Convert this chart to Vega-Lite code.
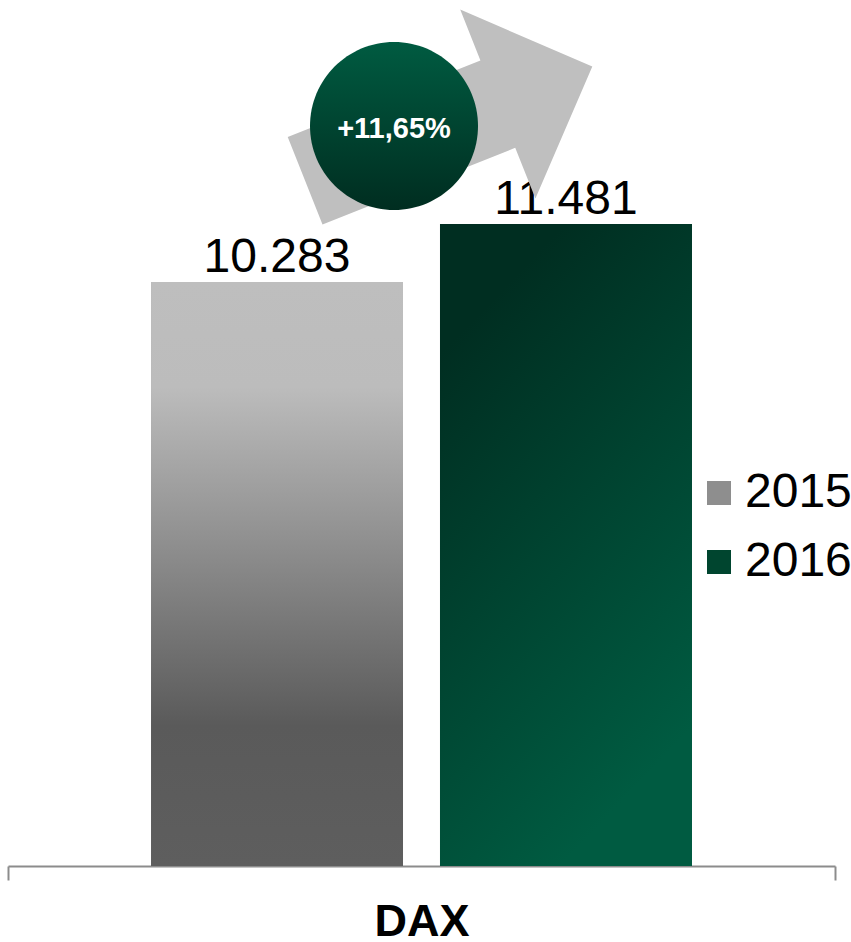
{
  "$schema": "https://vega.github.io/schema/vega-lite/v6.json",
  "width": 827,
  "height": 866,
  "autosize": {"type": "none"},
  "padding": {"left": 8, "top": 0, "right": 16, "bottom": 76},
  "background": "white",
  "config": {
    "font": "Liberation Sans",
    "view": {"stroke": null},
    "locale": {"number": {"decimal": ",", "thousands": ".", "grouping": [3], "currency": ["", " €"]}}
  },
  "data": {
    "values": [
      {"index": "DAX", "year": "2015", "value": 10283},
      {"index": "DAX", "year": "2016", "value": 11481, "change": "+11,65%"}
    ]
  },
  "layer": [
    {
      "mark": {"type": "bar", "opacity": 1},
      "encoding": {
        "x": {
          "field": "index",
          "type": "nominal",
          "scale": {"paddingInner": 0, "paddingOuter": 0},
          "axis": {
            "title": null,
            "labelAngle": 0,
            "labelFontSize": 45,
            "labelFontWeight": "bold",
            "labelColor": "black",
            "labelPadding": 19,
            "domainColor": "#8c8c8c",
            "domainWidth": 2,
            "ticks": true,
            "tickBand": "extent",
            "tickSize": 14,
            "tickColor": "#8c8c8c",
            "tickWidth": 2,
            "grid": false
          }
        },
        "xOffset": {
          "field": "year",
          "type": "nominal",
          "scale": {"paddingInner": 0.128, "paddingOuter": 0.495}
        },
        "y": {
          "field": "value",
          "type": "quantitative",
          "scale": {"domain": [-1780, 16109], "nice": false, "zero": false},
          "axis": null
        },
        "y2": {"datum": -1780},
        "color": {
          "field": "year",
          "type": "nominal",
          "scale": {"domain": ["2015", "2016"], "range": ["#8e8e8e", "#00452f"]},
          "legend": {
            "title": null,
            "orient": "none",
            "legendX": 687,
            "legendY": 469,
            "symbolType": "square",
            "symbolSize": 576,
            "symbolStrokeWidth": 0,
            "symbolOpacity": 1,
            "labelFontSize": 48,
            "labelOffset": 2,
            "labelColor": "black",
            "rowPadding": 21,
            "padding": 0
          }
        }
      }
    },
    {
      "transform": [{"filter": "datum.year == '2015'"}],
      "mark": {
        "type": "bar",
        "opacity": 1,
        "color": {
          "gradient": "linear", "x1": 0, "y1": 0, "x2": 0, "y2": 1,
          "stops": [
            {"offset": 0, "color": "#bebebe"},
            {"offset": 0.18, "color": "#bcbcbc"},
            {"offset": 0.76, "color": "#5a5a5a"},
            {"offset": 1, "color": "#5e5e5e"}
          ]
        }
      },
      "encoding": {
        "x": {"field": "index", "type": "nominal"},
        "xOffset": {"field": "year", "type": "nominal"},
        "y": {"field": "value", "type": "quantitative"},
        "y2": {"datum": -1780}
      }
    },
    {
      "transform": [{"filter": "datum.year == '2016'"}],
      "mark": {
        "type": "bar",
        "opacity": 1,
        "color": {
          "gradient": "linear", "x1": 0.25, "y1": 0.1, "x2": 0.6, "y2": 0.95,
          "stops": [
            {"offset": 0, "color": "#002e21"},
            {"offset": 1, "color": "#005b41"}
          ]
        }
      },
      "encoding": {
        "x": {"field": "index", "type": "nominal"},
        "xOffset": {"field": "year", "type": "nominal"},
        "y": {"field": "value", "type": "quantitative"},
        "y2": {"datum": -1780}
      }
    },
    {
      "mark": {
        "type": "text",
        "baseline": "alphabetic",
        "align": "center",
        "dy": -10,
        "fontSize": 48,
        "color": "black"
      },
      "encoding": {
        "x": {"field": "index", "type": "nominal"},
        "xOffset": {"field": "year", "type": "nominal"},
        "y": {"field": "value", "type": "quantitative"},
        "text": {"field": "value", "type": "quantitative", "format": ",d"}
      }
    },
    {
      "transform": [{"filter": "datum.year == '2016'"}],
      "mark": {
        "type": "text",
        "text": "➡",
        "font": "DejaVu Sans",
        "fontSize": 410,
        "angle": -21.7,
        "dx": 56.2,
        "dy": -77.7,
        "align": "center",
        "baseline": "middle",
        "color": "#bfbfbf"
      },
      "encoding": {
        "x": {"field": "index", "type": "nominal"},
        "y": {"field": "value", "type": "quantitative"}
      }
    },
    {
      "transform": [{"filter": "datum.year == '2016'"}],
      "mark": {
        "type": "bar",
        "opacity": 1,
        "width": 168,
        "cornerRadius": 84,
        "xOffset": -27.5,
        "yOffset": -14,
        "color": {
          "gradient": "linear", "x1": 0, "y1": 0, "x2": 0, "y2": 1,
          "stops": [{"offset": 0, "color": "#005b41"}, {"offset": 1, "color": "#002d20"}]
        }
      },
      "encoding": {
        "x": {"field": "index", "type": "nominal"},
        "y": {"field": "value", "type": "quantitative"},
        "y2": {"datum": 15241}
      }
    },
    {
      "transform": [{"filter": "datum.year == '2016'"}],
      "mark": {
        "type": "text",
        "dx": -27.5,
        "dy": -95,
        "fontSize": 29,
        "fontWeight": "bold",
        "color": "white",
        "align": "center",
        "baseline": "middle"
      },
      "encoding": {
        "x": {"field": "index", "type": "nominal"},
        "y": {"field": "value", "type": "quantitative"},
        "text": {"field": "change", "type": "nominal"}
      }
    }
  ]
}
